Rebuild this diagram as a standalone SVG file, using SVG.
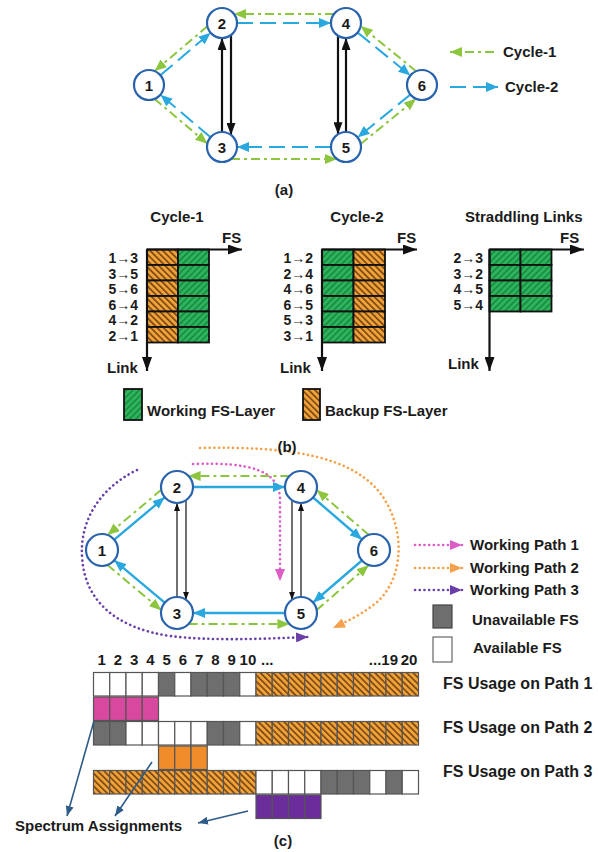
<svg xmlns="http://www.w3.org/2000/svg" width="598" height="852" viewBox="0 0 598 852">
<style>
.t{font-family:"Liberation Sans",Arial,Helvetica,sans-serif;font-weight:bold;font-size:15px;fill:#1b1b1b}
.m{text-anchor:middle}
.e{text-anchor:end}
.s14{font-size:14px}
.s16{font-size:16px}
.nd{fill:#fff;stroke:#2a63ad;stroke-width:2.2}
.g{fill:none;stroke:#8cc63f;stroke-width:2;stroke-dasharray:9 4 3 4}
.b{fill:none;stroke:#29a8e0;stroke-width:2;stroke-dasharray:16 7}
.bs{fill:none;stroke:#29a8e0;stroke-width:2.4}
.k{fill:none;stroke:#111;stroke-width:2.2}
.ks{fill:none;stroke:#111;stroke-width:1.2}
.ax{fill:none;stroke:#111;stroke-width:2.2}
.cw{fill:url(#hg);stroke:#111;stroke-width:1.8}
.cb{fill:url(#ho);stroke:#111;stroke-width:1.8}
.fw{fill:#fff;stroke:#555;stroke-width:1.2}
.fu{fill:#6e6e6e;stroke:#555;stroke-width:1.2}
.fo{fill:url(#ho);stroke:#555;stroke-width:1.2}
.am{fill:#d9489f;stroke:#555;stroke-width:1.2}
.ao{fill:#f08c2a;stroke:#555;stroke-width:1.2}
.ap{fill:#6c2d9c;stroke:#555;stroke-width:1.2}
.p1{fill:none;stroke:#dc5cc8;stroke-width:2.6;stroke-linecap:round;stroke-dasharray:0.1 4.6}
.p2{fill:none;stroke:#f5a04a;stroke-width:2.6;stroke-linecap:round;stroke-dasharray:0.1 4.6}
.p3{fill:none;stroke:#6a40a8;stroke-width:2.6;stroke-linecap:round;stroke-dasharray:0.1 4.6}
.nv{fill:none;stroke:#2d5b87;stroke-width:1.6}
</style>
<defs>
<pattern id="hg" width="4.5" height="4.5" patternUnits="userSpaceOnUse" patternTransform="rotate(45)">
<rect width="4.5" height="4.5" fill="#2eb45f"/><rect width="1.6" height="4.5" fill="#178a3e"/>
</pattern>
<pattern id="ho" width="4.5" height="4.5" patternUnits="userSpaceOnUse" patternTransform="rotate(-45)">
<rect width="4.5" height="4.5" fill="#f2a23a"/><rect width="1.7" height="4.5" fill="#7b4a12"/>
</pattern>
<marker id="aG" markerUnits="userSpaceOnUse" markerWidth="12" markerHeight="10" refX="12" refY="5" orient="auto"><path d="M0,0L12,5L0,10z" fill="#8cc63f"/></marker>
<marker id="aB" markerUnits="userSpaceOnUse" markerWidth="12" markerHeight="10" refX="12" refY="5" orient="auto"><path d="M0,0L12,5L0,10z" fill="#29a8e0"/></marker>
<marker id="aK" markerUnits="userSpaceOnUse" markerWidth="12" markerHeight="9" refX="12" refY="4.5" orient="auto"><path d="M0,0L12,4.5L0,9z" fill="#111"/></marker>
<marker id="aKs" markerUnits="userSpaceOnUse" markerWidth="8" markerHeight="6" refX="8" refY="3" orient="auto"><path d="M0,0L8,3L0,6z" fill="#111"/></marker>
<marker id="aX" markerUnits="userSpaceOnUse" markerWidth="14" markerHeight="10" refX="14" refY="5" orient="auto"><path d="M0,0L14,5L0,10z" fill="#111"/></marker>
<marker id="aM" markerUnits="userSpaceOnUse" markerWidth="12" markerHeight="10" refX="12" refY="5" orient="auto"><path d="M0,0L12,5L0,10z" fill="#dc5cc8"/></marker>
<marker id="aO" markerUnits="userSpaceOnUse" markerWidth="12" markerHeight="10" refX="12" refY="5" orient="auto"><path d="M0,0L12,5L0,10z" fill="#f5a04a"/></marker>
<marker id="aP" markerUnits="userSpaceOnUse" markerWidth="12" markerHeight="10" refX="12" refY="5" orient="auto"><path d="M0,0L12,5L0,10z" fill="#6a40a8"/></marker>
<marker id="aN" markerUnits="userSpaceOnUse" markerWidth="10" markerHeight="8" refX="10" refY="4" orient="auto"><path d="M0,0L10,4L0,8z" fill="#2d5b87"/></marker>
</defs>
<rect width="598" height="852" fill="#fff"/>

<!-- ===== (a) ===== -->
<g id="a-connectors">
<path class="b" marker-end="url(#aB)" d="M160.4,75.3L210.6,32.7"/>
<path class="g" marker-end="url(#aG)" d="M207.4,26.3L154.6,71.1"/>
<path class="b" marker-end="url(#aB)" d="M210.6,137.3L160.4,94.7"/>
<path class="g" marker-end="url(#aG)" d="M154.6,98.9L207.4,143.7"/>
<path class="b" marker-end="url(#aB)" d="M237,23L331,23"/>
<path class="g" marker-end="url(#aG)" d="M334,14L234,14"/>
<path class="b" marker-end="url(#aB)" d="M331,147L237,147"/>
<path class="g" marker-end="url(#aG)" d="M231,159L337,159"/>
<path class="b" marker-end="url(#aB)" d="M357.6,32.5L410.4,75.5"/>
<path class="g" marker-end="url(#aG)" d="M416.1,71.2L360.7,26"/>
<path class="b" marker-end="url(#aB)" d="M410.4,94.5L357.6,137.5"/>
<path class="g" marker-end="url(#aG)" d="M360.7,144L416.1,98.8"/>
<path class="k" marker-end="url(#aK)" d="M222,132L222,38"/>
<path class="k" marker-end="url(#aK)" d="M231,35L231,135"/>
<path class="k" marker-end="url(#aK)" d="M338,35.7L338,134.3"/>
<path class="k" marker-end="url(#aK)" d="M346,132L346,38"/>
</g>
<g id="a-n1"><circle class="nd" cx="149" cy="85" r="15"/><text class="t m" x="149" y="90.5">1</text></g>
<g id="a-n2"><circle class="nd" cx="222" cy="23" r="15"/><text class="t m" x="222" y="28.5">2</text></g>
<g id="a-n3"><circle class="nd" cx="222" cy="147" r="15"/><text class="t m" x="222" y="152.5">3</text></g>
<g id="a-n4"><circle class="nd" cx="346" cy="23" r="15"/><text class="t m" x="346" y="28.5">4</text></g>
<g id="a-n5"><circle class="nd" cx="346" cy="147" r="15"/><text class="t m" x="346" y="152.5">5</text></g>
<g id="a-n6"><circle class="nd" cx="422" cy="85" r="15"/><text class="t m" x="422" y="90.5">6</text></g>
<g id="a-legend">
<path class="g" marker-end="url(#aG)" d="M494,52L450,52"/>
<text class="t" x="503" y="57">Cycle-1</text>
<path class="b" marker-end="url(#aB)" d="M450,87L498,87"/>
<text class="t" x="505" y="92">Cycle-2</text>
</g>
<text class="t m" x="284" y="195">(a)</text>

<!-- ===== (b) ===== -->
<g id="b-cycle1">
<text class="t m" x="177" y="222">Cycle-1</text>
<rect class="cb" x="147" y="249.5" width="31" height="15.5"/><rect class="cw" x="178" y="249.5" width="31" height="15.5"/>
<rect class="cb" x="147" y="265" width="31" height="15.5"/><rect class="cw" x="178" y="265" width="31" height="15.5"/>
<rect class="cb" x="147" y="280.5" width="31" height="15.5"/><rect class="cw" x="178" y="280.5" width="31" height="15.5"/>
<rect class="cb" x="147" y="296" width="31" height="15.5"/><rect class="cw" x="178" y="296" width="31" height="15.5"/>
<rect class="cb" x="147" y="311.5" width="31" height="15.5"/><rect class="cw" x="178" y="311.5" width="31" height="15.5"/>
<rect class="cb" x="147" y="327" width="31" height="15.5"/><rect class="cw" x="178" y="327" width="31" height="15.5"/>
<path class="ax" marker-end="url(#aX)" d="M147,249.5H242"/>
<path class="ax" marker-end="url(#aX)" d="M147,249.5V371"/>
<text class="t" x="222" y="243">FS</text>
<text class="t" x="107" y="373">Link</text>
<text class="t e s14" x="138" y="263">1→3</text>
<text class="t e s14" x="138" y="278.5">3→5</text>
<text class="t e s14" x="138" y="294">5→6</text>
<text class="t e s14" x="138" y="309.5">6→4</text>
<text class="t e s14" x="138" y="325">4→2</text>
<text class="t e s14" x="138" y="340.5">2→1</text>
</g>
<g id="b-cycle2">
<text class="t m" x="357" y="222">Cycle-2</text>
<rect class="cw" x="322" y="249.5" width="31.5" height="15.5"/><rect class="cb" x="353.5" y="249.5" width="31.5" height="15.5"/>
<rect class="cw" x="322" y="265" width="31.5" height="15.5"/><rect class="cb" x="353.5" y="265" width="31.5" height="15.5"/>
<rect class="cw" x="322" y="280.5" width="31.5" height="15.5"/><rect class="cb" x="353.5" y="280.5" width="31.5" height="15.5"/>
<rect class="cw" x="322" y="296" width="31.5" height="15.5"/><rect class="cb" x="353.5" y="296" width="31.5" height="15.5"/>
<rect class="cw" x="322" y="311.5" width="31.5" height="15.5"/><rect class="cb" x="353.5" y="311.5" width="31.5" height="15.5"/>
<rect class="cw" x="322" y="327" width="31.5" height="15.5"/><rect class="cb" x="353.5" y="327" width="31.5" height="15.5"/>
<path class="ax" marker-end="url(#aX)" d="M322,249.5H417"/>
<path class="ax" marker-end="url(#aX)" d="M322,249.5V371"/>
<text class="t" x="397" y="243">FS</text>
<text class="t" x="280" y="373">Link</text>
<text class="t e s14" x="313" y="263">1→2</text>
<text class="t e s14" x="313" y="278.5">2→4</text>
<text class="t e s14" x="313" y="294">4→6</text>
<text class="t e s14" x="313" y="309.5">6→5</text>
<text class="t e s14" x="313" y="325">5→3</text>
<text class="t e s14" x="313" y="340.5">3→1</text>
</g>
<g id="b-straddling">
<text class="t" x="465" y="222">Straddling Links</text>
<rect class="cw" x="489.5" y="249.5" width="31" height="15.5"/><rect class="cw" x="520.5" y="249.5" width="31" height="15.5"/>
<rect class="cw" x="489.5" y="265" width="31" height="15.5"/><rect class="cw" x="520.5" y="265" width="31" height="15.5"/>
<rect class="cw" x="489.5" y="280.5" width="31" height="15.5"/><rect class="cw" x="520.5" y="280.5" width="31" height="15.5"/>
<rect class="cw" x="489.5" y="296" width="31" height="15.5"/><rect class="cw" x="520.5" y="296" width="31" height="15.5"/>
<path class="ax" marker-end="url(#aX)" d="M489.5,249.5H584"/>
<path class="ax" marker-end="url(#aX)" d="M489.5,249.5V371"/>
<text class="t" x="560" y="243">FS</text>
<text class="t" x="448" y="369">Link</text>
<text class="t e s14" x="483" y="263">2→3</text>
<text class="t e s14" x="483" y="278.5">3→2</text>
<text class="t e s14" x="483" y="294">4→5</text>
<text class="t e s14" x="483" y="309.5">5→4</text>
</g>
<g id="b-legend">
<rect class="cw" x="124" y="389" width="18" height="31"/>
<text class="t" x="147" y="416">Working FS-Layer</text>
<rect class="cb" x="303" y="389" width="17" height="31"/>
<text class="t" x="325" y="416">Backup FS-Layer</text>
</g>

<!-- ===== (c) ===== -->
<g id="c-paths">
<path class="p2" marker-end="url(#aO)" d="M200,448C290,446 355,456 383,497C408,535 402,585 372,606C360,615 348,621 333,628"/>
<path class="p1" marker-end="url(#aM)" d="M193,464C250,462 280,470 280,500L280,581"/>
<path class="p3" marker-end="url(#aP)" d="M137,470C100,488 80,520 82,556C84,600 115,628 170,636C210,641 260,639 308,637"/>
</g>
<text class="t m" x="287" y="452">(b)</text>
<g id="c-connectors">
<path class="bs" marker-end="url(#aB)" d="M114.3,539.7L164.7,497.3"/>
<path class="g" marker-end="url(#aG)" d="M161.3,489.8L107.5,535"/>
<path class="bs" marker-end="url(#aB)" d="M164.7,602.7L114.3,560.3"/>
<path class="g" marker-end="url(#aG)" d="M107.5,565L161.3,610.2"/>
<path class="bs" marker-end="url(#aB)" d="M193,487L285,487"/>
<path class="g" marker-end="url(#aG)" d="M289.4,476L188.6,476"/>
<path class="bs" marker-end="url(#aB)" d="M285,613L193,613"/>
<path class="g" marker-end="url(#aG)" d="M188.6,624L289.4,624"/>
<path class="bs" marker-end="url(#aB)" d="M313.1,497.5L361.9,539.5"/>
<path class="g" marker-end="url(#aG)" d="M368.7,534.8L316.7,490"/>
<path class="bs" marker-end="url(#aB)" d="M361.9,560.5L313.1,602.5"/>
<path class="g" marker-end="url(#aG)" d="M316.7,610L368.7,565.2"/>
<path class="ks" marker-end="url(#aKs)" d="M177,597L177,503"/>
<path class="ks" marker-end="url(#aKs)" d="M186,500.2L186,599.8"/>
<path class="ks" marker-end="url(#aKs)" d="M292,500.2L292,599.8"/>
<path class="ks" marker-end="url(#aKs)" d="M301,597L301,503"/>
</g>
<g id="c-n1"><circle class="nd" cx="102" cy="550" r="16"/><text class="t m" x="102" y="555.5">1</text></g>
<g id="c-n2"><circle class="nd" cx="177" cy="487" r="16"/><text class="t m" x="177" y="492.5">2</text></g>
<g id="c-n3"><circle class="nd" cx="177" cy="613" r="16"/><text class="t m" x="177" y="618.5">3</text></g>
<g id="c-n4"><circle class="nd" cx="301" cy="487" r="16"/><text class="t m" x="301" y="492.5">4</text></g>
<g id="c-n5"><circle class="nd" cx="301" cy="613" r="16"/><text class="t m" x="301" y="618.5">5</text></g>
<g id="c-n6"><circle class="nd" cx="374" cy="550" r="16"/><text class="t m" x="374" y="555.5">6</text></g>
<g id="c-legend">
<path class="p1" marker-end="url(#aM)" d="M415,545H462"/>
<text class="t" x="470" y="550">Working Path 1</text>
<path class="p2" marker-end="url(#aO)" d="M415,568H462"/>
<text class="t" x="470" y="573">Working Path 2</text>
<path class="p3" marker-end="url(#aP)" d="M415,590H462"/>
<text class="t" x="470" y="595">Working Path 3</text>
<rect x="433" y="605" width="19" height="23" fill="#6e6e6e" stroke="#444" stroke-width="1.2"/>
<text class="t" x="472" y="625">Unavailable FS</text>
<rect x="433" y="637" width="19" height="25" fill="#fff" stroke="#666" stroke-width="1.2"/>
<text class="t" x="473" y="653">Available FS</text>
</g>
<g id="c-numbers">
<text class="t m" x="101.6" y="665">1</text>
<text class="t m" x="117.9" y="665">2</text>
<text class="t m" x="134.1" y="665">3</text>
<text class="t m" x="150.4" y="665">4</text>
<text class="t m" x="166.6" y="665">5</text>
<text class="t m" x="182.9" y="665">6</text>
<text class="t m" x="199.1" y="665">7</text>
<text class="t m" x="215.4" y="665">8</text>
<text class="t m" x="231.6" y="665">9</text>
<text class="t m" x="247.9" y="665">10</text>
<text class="t" x="261" y="665">...</text>
<text class="t e" x="398" y="665">...19</text>
<text class="t m" x="409" y="665">20</text>
</g>
<g id="c-row1">
<rect class="fw" x="93.5" y="672.5" width="16.25" height="23.5"/>
<rect class="fw" x="109.75" y="672.5" width="16.25" height="23.5"/>
<rect class="fw" x="126" y="672.5" width="16.25" height="23.5"/>
<rect class="fw" x="142.25" y="672.5" width="16.25" height="23.5"/>
<rect class="fu" x="158.5" y="672.5" width="16.25" height="23.5"/>
<rect class="fw" x="174.75" y="672.5" width="16.25" height="23.5"/>
<rect class="fu" x="191" y="672.5" width="16.25" height="23.5"/>
<rect class="fu" x="207.25" y="672.5" width="16.25" height="23.5"/>
<rect class="fu" x="223.5" y="672.5" width="16.25" height="23.5"/>
<rect class="fw" x="239.75" y="672.5" width="16.25" height="23.5"/>
<rect class="fo" x="256" y="672.5" width="16.25" height="23.5"/>
<rect class="fo" x="272.25" y="672.5" width="16.25" height="23.5"/>
<rect class="fo" x="288.5" y="672.5" width="16.25" height="23.5"/>
<rect class="fo" x="304.75" y="672.5" width="16.25" height="23.5"/>
<rect class="fo" x="321" y="672.5" width="16.25" height="23.5"/>
<rect class="fo" x="337.25" y="672.5" width="16.25" height="23.5"/>
<rect class="fo" x="353.5" y="672.5" width="16.25" height="23.5"/>
<rect class="fo" x="369.75" y="672.5" width="16.25" height="23.5"/>
<rect class="fo" x="386" y="672.5" width="16.25" height="23.5"/>
<rect class="fo" x="402.25" y="672.5" width="16.25" height="23.5"/>
<text class="t s16" x="443" y="689">FS Usage on Path 1</text>
</g>
<g id="c-assign1">
<rect class="am" x="93.5" y="697" width="16.25" height="23.5"/>
<rect class="am" x="109.75" y="697" width="16.25" height="23.5"/>
<rect class="am" x="126" y="697" width="16.25" height="23.5"/>
<rect class="am" x="142.25" y="697" width="16.25" height="23.5"/>
</g>
<g id="c-row2">
<rect class="fu" x="93.5" y="721.5" width="16.25" height="23.5"/>
<rect class="fu" x="109.75" y="721.5" width="16.25" height="23.5"/>
<rect class="fw" x="126" y="721.5" width="16.25" height="23.5"/>
<rect class="fw" x="142.25" y="721.5" width="16.25" height="23.5"/>
<rect class="fw" x="158.5" y="721.5" width="16.25" height="23.5"/>
<rect class="fw" x="174.75" y="721.5" width="16.25" height="23.5"/>
<rect class="fw" x="191" y="721.5" width="16.25" height="23.5"/>
<rect class="fu" x="207.25" y="721.5" width="16.25" height="23.5"/>
<rect class="fu" x="223.5" y="721.5" width="16.25" height="23.5"/>
<rect class="fw" x="239.75" y="721.5" width="16.25" height="23.5"/>
<rect class="fo" x="256" y="721.5" width="16.25" height="23.5"/>
<rect class="fo" x="272.25" y="721.5" width="16.25" height="23.5"/>
<rect class="fo" x="288.5" y="721.5" width="16.25" height="23.5"/>
<rect class="fo" x="304.75" y="721.5" width="16.25" height="23.5"/>
<rect class="fo" x="321" y="721.5" width="16.25" height="23.5"/>
<rect class="fo" x="337.25" y="721.5" width="16.25" height="23.5"/>
<rect class="fo" x="353.5" y="721.5" width="16.25" height="23.5"/>
<rect class="fo" x="369.75" y="721.5" width="16.25" height="23.5"/>
<rect class="fo" x="386" y="721.5" width="16.25" height="23.5"/>
<rect class="fo" x="402.25" y="721.5" width="16.25" height="23.5"/>
<text class="t s16" x="443" y="733">FS Usage on Path 2</text>
</g>
<g id="c-assign2">
<rect class="ao" x="158.5" y="746" width="16.25" height="23.5"/>
<rect class="ao" x="174.75" y="746" width="16.25" height="23.5"/>
<rect class="ao" x="191" y="746" width="16.25" height="23.5"/>
</g>
<g id="c-row3">
<rect class="fo" x="93.5" y="770.5" width="16.25" height="23.5"/>
<rect class="fo" x="109.75" y="770.5" width="16.25" height="23.5"/>
<rect class="fo" x="126" y="770.5" width="16.25" height="23.5"/>
<rect class="fo" x="142.25" y="770.5" width="16.25" height="23.5"/>
<rect class="fo" x="158.5" y="770.5" width="16.25" height="23.5"/>
<rect class="fo" x="174.75" y="770.5" width="16.25" height="23.5"/>
<rect class="fo" x="191" y="770.5" width="16.25" height="23.5"/>
<rect class="fo" x="207.25" y="770.5" width="16.25" height="23.5"/>
<rect class="fo" x="223.5" y="770.5" width="16.25" height="23.5"/>
<rect class="fo" x="239.75" y="770.5" width="16.25" height="23.5"/>
<rect class="fw" x="256" y="770.5" width="16.25" height="23.5"/>
<rect class="fw" x="272.25" y="770.5" width="16.25" height="23.5"/>
<rect class="fw" x="288.5" y="770.5" width="16.25" height="23.5"/>
<rect class="fw" x="304.75" y="770.5" width="16.25" height="23.5"/>
<rect class="fu" x="321" y="770.5" width="16.25" height="23.5"/>
<rect class="fu" x="337.25" y="770.5" width="16.25" height="23.5"/>
<rect class="fu" x="353.5" y="770.5" width="16.25" height="23.5"/>
<rect class="fw" x="369.75" y="770.5" width="16.25" height="23.5"/>
<rect class="fu" x="386" y="770.5" width="16.25" height="23.5"/>
<rect class="fw" x="402.25" y="770.5" width="16.25" height="23.5"/>
<text class="t s16" x="443" y="777">FS Usage on Path 3</text>
</g>
<g id="c-assign3">
<rect class="ap" x="256" y="795" width="16.25" height="23.5"/>
<rect class="ap" x="272.25" y="795" width="16.25" height="23.5"/>
<rect class="ap" x="288.5" y="795" width="16.25" height="23.5"/>
<rect class="ap" x="304.75" y="795" width="16.25" height="23.5"/>
</g>
<g id="c-spectrum">
<path class="nv" marker-end="url(#aN)" d="M94,721L67,816"/>
<path class="nv" marker-end="url(#aN)" d="M152,762L115,816"/>
<path class="nv" marker-end="url(#aN)" d="M248,811L198,823"/>
<text class="t" x="15" y="831">Spectrum Assignments</text>
</g>
<text class="t m" x="283" y="846">(c)</text>
</svg>
